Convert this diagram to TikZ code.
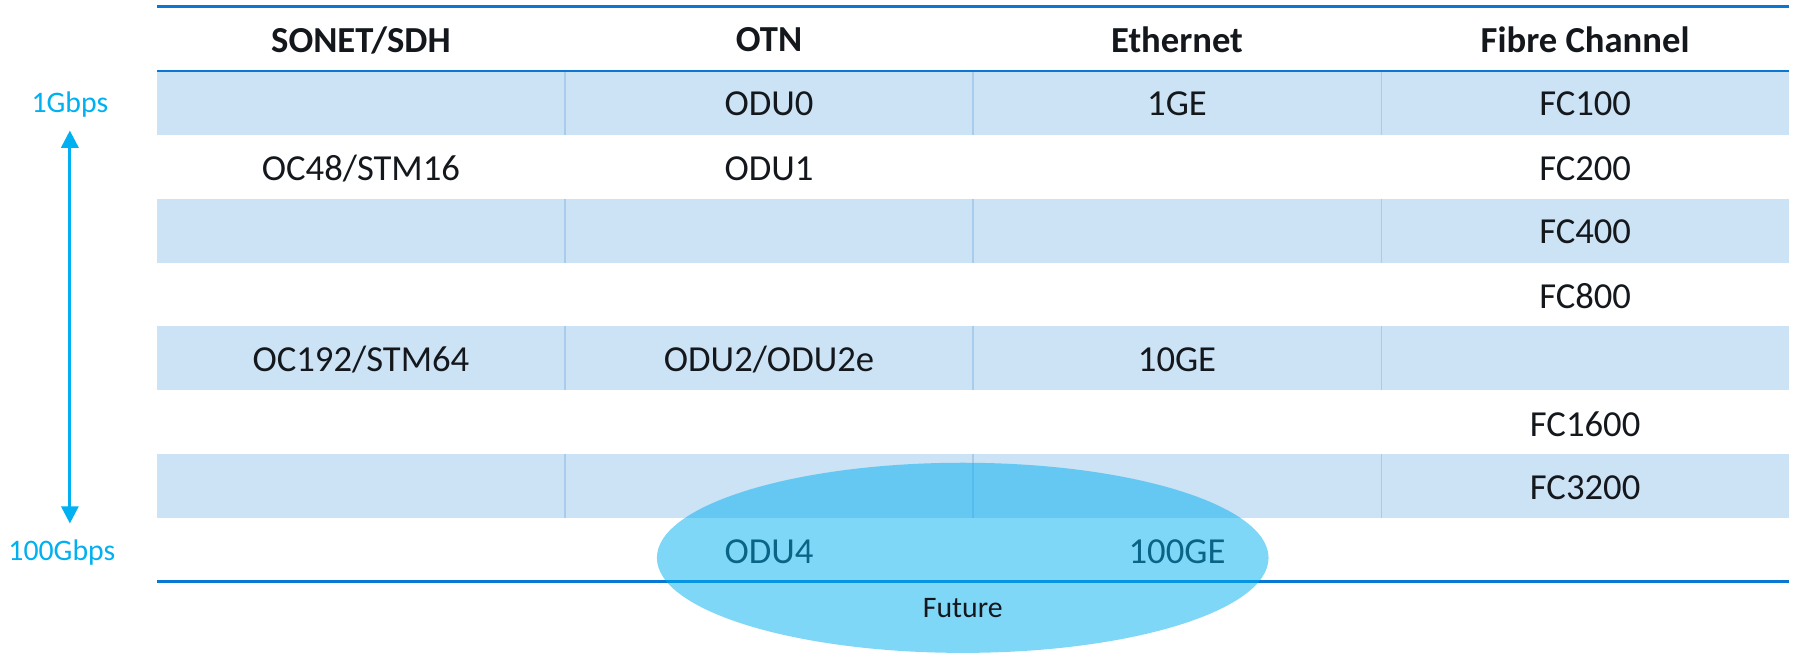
\documentclass[tikz,border=0pt]{standalone}
\usepackage{fontspec}
\setmainfont{Carlito}
\usetikzlibrary{arrows.meta,shapes.geometric}
\definecolor{band}{HTML}{CCE2F5}
\definecolor{rule}{HTML}{0A78D2}
\definecolor{divid}{HTML}{A9CCEC}
\definecolor{cyanx}{HTML}{00B0F0}
\definecolor{txt}{HTML}{14181C}
\tikzset{
  cell/.style={text=txt,font=\fontsize{16}{19}\selectfont,inner sep=0pt,anchor=center},
  head/.style={text=txt,font=\fontsize{16}{19}\selectfont\bfseries,inner sep=0pt,anchor=center},
  speed/.style={text=cyanx,font=\fontsize{13}{16}\selectfont,inner sep=0pt},
  hrule/.style={draw=rule,line width=1.3pt},
}
\begin{document}
\begin{tikzpicture}[x=0.5pt,y=-0.5pt]
\useasboundingbox (0,0) rectangle (1568,571);
% bands
\foreach \r in {1,3,5,7}{
  \fill[band] (137,{62+(\r-1)*55.75}) rectangle (1562,{62+\r*55.75});
  \foreach \cx in {493.25,849.5,1205.75}{
    \draw[divid,line width=0.5pt] (\cx,{62+(\r-1)*55.75}) -- (\cx,{62+\r*55.75});
  }
}
% rules
\draw[hrule] (137,6) -- (1562,6);
\draw[hrule] (137,62) -- (1562,62);
\draw[hrule] (137,508) -- (1562,508);
% headers
\node[head] (h1) at (315.1,35) {SONET/SDH};
\node[head] (h2) at (671.4,35) {OTN};
\node[head] (h3) at (1027.6,35) {Ethernet};
\node[head] (h4) at (1383.9,35) {Fibre Channel};
% cells
\node[cell] (c12) at (671.4,91) {ODU0};
\node[cell] (c13) at (1027.6,91) {1GE};
\node[cell] (c14) at (1383.9,91) {FC100};
\node[cell] (c21) at (315.1,147) {OC48/STM16};
\node[cell] (c22) at (671.4,147) {ODU1};
\node[cell] (c24) at (1383.9,147) {FC200};
\node[cell] (c34) at (1383.9,202.5) {FC400};
\node[cell] (c44) at (1383.9,258.5) {FC800};
\node[cell] (c51) at (315.1,314) {OC192/STM64};
\node[cell] (c52) at (671.4,314) {ODU2/ODU2e};
\node[cell] (c53) at (1027.6,314) {10GE};
\node[cell] (c64) at (1383.9,370) {FC1600};
\node[cell] (c74) at (1383.9,426) {FC3200};
\node[cell] (c82) at (671.4,482) {ODU4};
\node[cell] (c83) at (1027.6,482) {100GE};
% ellipse
\node[ellipse,fill=cyanx,fill opacity=0.5,draw=none,minimum width=267pt,minimum height=83pt,inner sep=0pt] (ell) at (840.5,487) {};
\node[cell,font=\fontsize{13}{16}\selectfont] (fut) at (840.5,531) {Future};
% speed axis
\node[speed] (g1) at (61,91) {1Gbps};
\node[speed] (g100) at (54,482) {100Gbps};
\coordinate (atop) at (61,114);
\coordinate (abot) at (61,457);
\draw[cyanx,line width=1.2pt,{Triangle[length=7.5pt,width=7.5pt]}-{Triangle[length=7.5pt,width=7.5pt]}] (atop) -- (abot);
\end{tikzpicture}
\end{document}
